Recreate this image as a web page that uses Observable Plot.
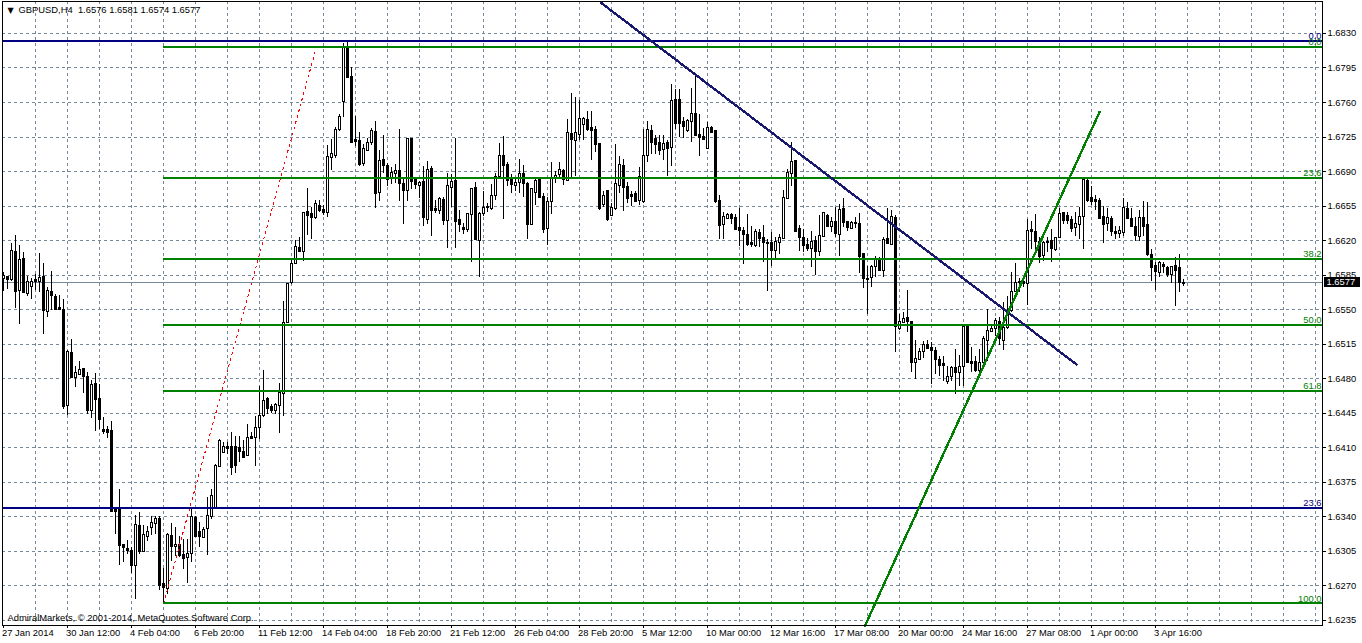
<!DOCTYPE html>
<html><head><meta charset="utf-8">
<script src="https://cdn.jsdelivr.net/npm/d3@7"></script>
<script src="https://cdn.jsdelivr.net/npm/@observablehq/plot@0.6"></script>
<style>html,body{margin:0;padding:0;background:#fff}svg{display:block}</style>
</head><body><div id="chart"></div>
<script>
// quotes in pips above 1.0000 (6577 = 1.6577), one entry per H4 bar
const open = [
6581,6583,6580,6608,6569,6601,6566,6573,6580,6578,
6583,6548,6568,6563,6552,6550,6452,6506,6481,6484,
6490,6482,6447,6475,6459,6428,6428,6427,6347,6347,
6312,6307,6305,6290,6331,6304,6320,6329,6333,6338,
6272,6267,6321,6309,6312,6301,6298,6302,6339,6325,
6319,6328,6340,6348,6391,6405,6411,6411,6411,6410,
6406,6402,6421,6420,6430,6442,6459,6451,6447,6452,
6465,6537,6577,6596,6613,6608,6649,6647,6643,6655,
6651,6648,6704,6706,6732,6761,6814,6786,6722,6721,
6698,6711,6719,6730,6668,6702,6696,6682,6688,6691,
6677,6670,6723,6681,6675,6679,6641,6693,6652,6650,
6661,6640,6673,6680,6641,6633,6631,6646,6673,6620,
6647,6654,6652,6665,6685,6706,6697,6683,6675,6678,
6688,6677,6636,6668,6681,6664,6632,6659,6683,6687,
6691,6680,6728,6721,6727,6737,6742,6734,6732,6718,
6656,6670,6645,6652,6675,6696,6674,6666,6667,6660,
6659,6706,6731,6723,6719,6712,6719,6714,6763,6763,
6740,6731,6740,6748,6727,6725,6713,6734,6731,6660,
6636,6642,6646,6643,6633,6630,6626,6618,6615,6628,
6623,6618,6618,6610,6618,6622,6662,6688,6701,6632,
6623,6616,6612,6620,6608,6624,6645,6634,6639,6626,
6652,6639,6632,6638,6637,6606,6581,6582,6593,6600,
6589,6622,6616,6643,6530,6537,6542,6538,6496,6499,
6507,6514,6511,6508,6499,6495,6477,6482,6491,6486,
6492,6533,6497,6497,6488,6496,6518,6527,6530,6538,
6518,6531,6549,6568,6578,6578,6576,6631,6629,6619,
6604,6619,6620,6611,6623,6648,6645,6641,6633,6636,
6644,6680,6663,6661,6660,6644,6637,6642,6629,6627,
6628,6652,6642,6634,6624,6643,6636,6605,6594,6587,
6595,6592,6585,6594,6592,6576];
const high = [
6588,6583,6617,6625,6615,6608,6584,6582,6586,6607,
6597,6573,6589,6565,6564,6560,6509,6520,6492,6498,
6490,6486,6478,6485,6474,6441,6432,6437,6350,6368,
6312,6316,6309,6341,6344,6331,6330,6340,6340,6340,
6288,6323,6333,6329,6320,6317,6317,6349,6340,6334,
6329,6360,6368,6393,6418,6415,6415,6426,6421,6421,
6417,6434,6426,6442,6472,6488,6461,6454,6455,6475,
6558,6576,6600,6620,6623,6649,6673,6654,6661,6661,
6656,6716,6723,6735,6748,6820,6821,6795,6746,6730,
6717,6724,6734,6741,6711,6727,6698,6694,6697,6733,
6682,6724,6723,6684,6680,6695,6700,6695,6661,6664,
6664,6688,6687,6724,6651,6637,6648,6673,6679,6649,
6670,6658,6677,6688,6718,6726,6699,6687,6682,6702,
6696,6679,6673,6682,6684,6668,6664,6699,6690,6699,
6692,6743,6769,6765,6762,6745,6751,6751,6736,6718,
6670,6670,6658,6717,6705,6702,6679,6670,6670,6694,
6733,6741,6737,6727,6727,6727,6722,6778,6773,6773,
6745,6743,6774,6786,6748,6734,6740,6736,6731,6666,
6649,6648,6648,6646,6653,6633,6647,6634,6631,6631,
6635,6621,6628,6623,6626,6671,6692,6719,6701,6635,
6631,6622,6629,6624,6645,6649,6646,6643,6654,6657,
6663,6639,6639,6643,6648,6606,6594,6595,6604,6603,
6623,6653,6651,6645,6545,6547,6569,6538,6519,6511,
6518,6519,6517,6512,6503,6503,6492,6492,6510,6504,
6533,6534,6512,6503,6510,6523,6550,6535,6541,6542,
6557,6563,6588,6597,6582,6583,6641,6639,6647,6623,
6619,6623,6631,6623,6653,6649,6649,6644,6649,6654,
6682,6683,6675,6666,6663,6655,6653,6644,6634,6634,
6663,6659,6653,6643,6651,6660,6659,6611,6598,6599,
6598,6594,6594,6603,6606,6581];
const low = [
6568,6570,6579,6551,6535,6566,6563,6560,6569,6567,
6525,6542,6549,6549,6549,6449,6443,6480,6471,6484,
6465,6444,6440,6427,6429,6423,6419,6344,6322,6291,
6294,6302,6283,6256,6302,6304,6315,6321,6322,6265,
6253,6261,6295,6300,6299,6287,6272,6294,6319,6309,
6318,6301,6337,6347,6390,6404,6403,6382,6384,6395,
6399,6401,6418,6391,6418,6441,6444,6445,6444,6425,
6442,6536,6576,6596,6608,6599,6625,6621,6641,6649,
6645,6643,6691,6703,6731,6745,6785,6719,6715,6695,
6695,6710,6716,6653,6660,6688,6675,6677,6678,6660,
6636,6660,6672,6672,6663,6634,6636,6624,6648,6647,
6635,6612,6654,6612,6628,6626,6628,6598,6620,6583,
6644,6649,6651,6661,6685,6641,6675,6668,6670,6668,
6664,6621,6636,6656,6663,6627,6615,6647,6678,6683,
6676,6680,6683,6685,6722,6722,6731,6701,6709,6651,
6654,6639,6644,6651,6668,6650,6658,6655,6659,6656,
6658,6699,6707,6707,6706,6701,6685,6695,6733,6725,
6724,6730,6719,6726,6705,6721,6713,6729,6658,6621,
6621,6642,6636,6631,6614,6596,6614,6613,6613,6613,
6598,6568,6594,6601,6606,6622,6662,6675,6628,6609,
6608,6609,6593,6585,6604,6623,6633,6628,6623,6604,
6633,6629,6632,6632,6587,6571,6545,6573,6583,6589,
6583,6616,6616,6507,6529,6537,6527,6486,6479,6499,
6501,6510,6474,6484,6482,6477,6474,6477,6464,6472,
6472,6496,6486,6486,6481,6489,6497,6527,6523,6514,
6509,6530,6547,6567,6567,6573,6554,6611,6608,6597,
6599,6608,6598,6609,6623,6636,6636,6628,6624,6621,
6611,6659,6656,6651,6641,6617,6629,6624,6621,6622,
6624,6642,6634,6619,6619,6624,6604,6579,6569,6583,
6587,6583,6577,6553,6567,6574];
const close = [
6584,6580,6609,6568,6600,6567,6578,6578,6578,6582,
6549,6569,6564,6550,6550,6451,6507,6481,6486,6489,
6482,6447,6474,6458,6438,6426,6425,6345,6345,6310,
6308,6305,6290,6332,6304,6322,6325,6334,6338,6270,
6268,6322,6309,6312,6300,6297,6302,6340,6320,6320,
6327,6341,6361,6392,6417,6411,6409,6390,6392,6406,
6400,6420,6419,6430,6442,6457,6449,6447,6453,6466,
6537,6576,6596,6614,6608,6648,6645,6643,6657,6650,
6648,6705,6708,6732,6745,6815,6785,6719,6720,6697,
6713,6719,6731,6667,6701,6696,6681,6689,6691,6677,
6670,6723,6679,6676,6678,6643,6692,6650,6650,6662,
6640,6675,6679,6639,6636,6631,6647,6672,6621,6647,
6653,6653,6665,6685,6706,6696,6680,6676,6678,6688,
6677,6636,6672,6680,6663,6631,6659,6683,6686,6692,
6681,6729,6722,6729,6743,6743,6732,6731,6717,6652,
6665,6641,6653,6677,6697,6673,6662,6664,6659,6685,
6706,6732,6719,6717,6711,6718,6713,6762,6738,6738,
6735,6741,6748,6726,6724,6722,6734,6729,6659,6635,
6644,6646,6642,6631,6630,6626,6616,6616,6629,6622,
6618,6617,6609,6619,6623,6663,6689,6700,6629,6623,
6615,6612,6619,6608,6625,6648,6634,6639,6627,6651,
6638,6633,6638,6637,6603,6581,6580,6593,6600,6589,
6621,6617,6644,6532,6538,6541,6538,6496,6500,6507,
6514,6510,6508,6499,6493,6493,6482,6491,6486,6492,
6532,6496,6495,6488,6496,6520,6528,6530,6539,6520,
6531,6549,6568,6577,6577,6576,6630,6629,6619,6603,
6618,6618,6612,6623,6647,6640,6640,6632,6637,6644,
6681,6660,6659,6659,6642,6636,6643,6629,6627,6630,
6653,6642,6634,6625,6643,6634,6605,6592,6588,6597,
6593,6585,6593,6589,6577,6577];

const timeLabels = ["27 Jan 2014","30 Jan 12:00","4 Feb 04:00","6 Feb 20:00","11 Feb 12:00","14 Feb 04:00","18 Feb 20:00","21 Feb 12:00","26 Feb 04:00","28 Feb 20:00","5 Mar 12:00","10 Mar 00:00","12 Mar 16:00","17 Mar 08:00","20 Mar 00:00","24 Mar 16:00","27 Mar 08:00","1 Apr 00:00","3 Apr 16:00"];
const priceTicks = [1.6235,1.6270,1.6305,1.6340,1.6375,1.6410,1.6445,1.6480,1.6515,1.6550,1.6585,1.6620,1.6655,1.6690,1.6725,1.6760,1.6795,1.6830];
const fibGreenLevels = [1.62522,1.64677,1.65343,1.6601,1.66832,1.68164];
const fibGreenLabels = ["100.0","61.8","50.0","38.2","23.6","0.0"];
const fibBlueLevels = [1.68225,1.63494];
const fibBlueLabels = ["0.0","23.6"];
const fibStartBar = 40;
const lastPriceLevel = 1.65778;
const navyTrend = [[149.5,1.68607],[268.25,1.64945]];
const greenTrend = [[215.4,1.62299],[274,1.67503]];
const fibDiagonal = [[40,1.62522],[78.25,1.68164]];
const symbolName = "GBPUSD,H4";
const copyright = "AdmiralMarkets, © 2001-2014, MetaQuotes Software Corp.";

const px = v => 1 + v / 1e4;
const bars = open.map((o, i) => ({i, o: px(o), h: px(high[i]), l: px(low[i]), c: px(close[i])}));
const gridBars = d3.range(8, 329, 8);
const labelBars = timeLabels.map((_, k) => k * 16);
const crisp = {shapeRendering: "crispEdges"};
const gridStyle = {stroke: "#778899", strokeDasharray: "3,3", strokeWidth: 1, ...crisp};
const quote = v => v.toFixed(4);
const last = bars[bars.length - 1];
const header = `${symbolName}  ${[last.o, last.h, last.l, last.c].map(quote).join(" ")}`;
const xEnd = 329.75;
const fontSize = 9.4;

const chart = Plot.plot({
  width: 1362, height: 643,
  marginLeft: 2, marginRight: 40, marginTop: 1, marginBottom: 18,
  style: {background: "#fff", fontFamily: "'Liberation Sans', sans-serif", fontSize: fontSize + "px", color: "#000"},
  x: {type: "linear", domain: [-0.25, xEnd]},
  y: {type: "linear", domain: [1.62299, 1.68624]},
  marks: [
    Plot.ruleX(gridBars, gridStyle),
    Plot.ruleY(priceTicks, {...gridStyle}),
    Plot.ruleY([lastPriceLevel], {stroke: "#778899", strokeWidth: 1, ...crisp}),
    Plot.ruleX(bars, {x: "i", y1: "l", y2: "h", stroke: "#000", strokeWidth: 1, ...crisp}),
    Plot.rect(bars, {
      x1: d => d.i - 0.25, x2: d => d.i + 0.25,
      y1: "o", y2: "c",
      fill: d => d.c >= d.o ? "#fff" : "#000",
      stroke: "#000", strokeWidth: 1, ...crisp
    }),
    Plot.line(fibDiagonal, {x: "0", y: "1", stroke: "#ff0000", strokeWidth: 1, strokeDasharray: "2,4", ...crisp}),
    Plot.ruleY(fibBlueLevels, {x1: -0.25, x2: xEnd, stroke: "#000080", strokeWidth: 2, ...crisp}),
    Plot.ruleY(fibGreenLevels, {x1: fibStartBar, x2: xEnd, stroke: "#008000", strokeWidth: 2, ...crisp}),
    Plot.line(navyTrend, {x: "0", y: "1", stroke: "#191970", strokeWidth: 2.4, ...crisp}),
    Plot.line(greenTrend, {x: "0", y: "1", stroke: "#008000", strokeWidth: 2.4, ...crisp}),
    Plot.text(fibGreenLevels, {x: xEnd - 0.25, y: d => d, text: (d, i) => fibGreenLabels[i], textAnchor: "end", dy: -5, fill: "#008000"}),
    Plot.text(fibBlueLevels, {x: xEnd - 0.25, y: d => d, text: (d, i) => fibBlueLabels[i], textAnchor: "end", dy: -5, fill: "#000080"}),
    Plot.frame({stroke: "#000", strokeWidth: 1, ...crisp}),
    Plot.axisY(priceTicks, {anchor: "right", tickSize: 3, tickPadding: 2, tickFormat: quote, label: null, stroke: "#000", fill: "#000", ...crisp}),
    Plot.axisX(labelBars, {anchor: "bottom", tickSize: 3, text: null, label: null, stroke: "#000", ...crisp}),
    Plot.axisX(labelBars, {anchor: "bottom", tickSize: 0, tickPadding: 4, dx: -1.5, tickFormat: (d, i) => timeLabels[i], textAnchor: "start", label: null, fill: "#000"}),
    Plot.rect([lastPriceLevel], {x1: 330.25, x2: 339.25, y1: d => d - 0.0005, y2: d => d + 0.0005, fill: "#000", ...crisp}),
    Plot.text([lastPriceLevel], {x: 330.75, y: d => d, text: () => quote(last.c), textAnchor: "start", fill: "#fff"}),
    Plot.text(["▼"], {frameAnchor: "top-left", dx: 5, dy: 6, textAnchor: "start", fontSize: 8, fill: "#000", fontFamily: "'DejaVu Sans'"}),
    Plot.text([header], {frameAnchor: "top-left", dx: 16, dy: 5, textAnchor: "start", fill: "#000"}),
    Plot.text([copyright], {frameAnchor: "bottom-left", dx: 5, dy: -5, textAnchor: "start", fill: "#000"})
  ]
});
document.getElementById("chart").appendChild(chart);
</script>
</body></html>
